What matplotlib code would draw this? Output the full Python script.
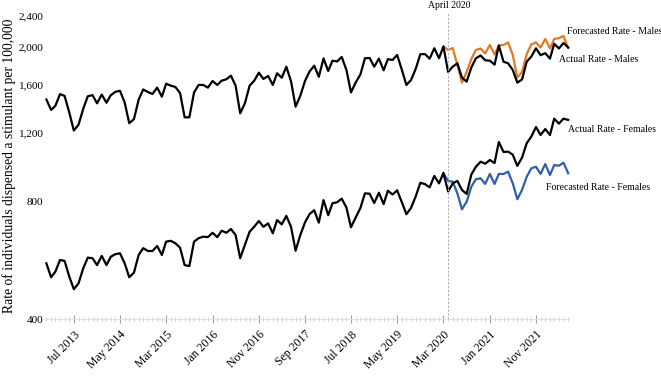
import numpy as np
import pandas as pd
import matplotlib
matplotlib.use('Agg')
from matplotlib import pyplot as plt
import matplotlib.dates as mdates
from matplotlib.ticker import FuncFormatter, NullFormatter, NullLocator

plt.rcParams['font.family'] = ['Liberation Serif', 'DejaVu Serif']

# monthly rates, Jan 2013 - Jun 2022
male_actual = [
    1465, 1377, 1410, 1512, 1496, 1356, 1219, 1262, 1387, 1493, 1503, 1432,
    1508, 1437, 1502, 1533, 1542, 1439, 1273, 1304, 1463, 1554, 1531, 1513,
    1571, 1489, 1608, 1589, 1577, 1522, 1318, 1318, 1527, 1596, 1596, 1571,
    1634, 1596, 1637, 1651, 1686, 1589, 1350, 1432, 1589, 1636, 1716, 1654,
    1683, 1596, 1710, 1666, 1778, 1631, 1404, 1497, 1634, 1729, 1788, 1675,
    1867, 1734, 1842, 1834, 1884, 1744, 1527, 1620, 1698, 1869, 1872, 1778,
    1865, 1741, 1859, 1850, 1906, 1747, 1596, 1644, 1758, 1915, 1915, 1864,
    1983, 1869, 2004, 1724, 1778, 1814, 1668, 1628, 1770, 1869, 1900, 1847,
    1842, 1800, 2016, 1831, 1814, 1744, 1618, 1649, 1832, 1887, 1983, 1903,
    1926, 1865, 2037, 1980, 2046, 1992,
]
female_actual = [
    556, 512, 529, 567, 564, 514, 477, 494, 540, 575, 573, 550,
    581, 550, 578, 587, 590, 556, 512, 526, 584, 608, 598, 598,
    616, 584, 632, 635, 626, 610, 550, 547, 632, 645, 651, 649,
    666, 649, 674, 666, 681, 657, 573, 620, 670, 690, 714, 690,
    704, 664, 718, 700, 736, 690, 599, 657, 708, 744, 761, 707,
    808, 739, 793, 798, 815, 773, 688, 729, 771, 841, 839, 794,
    844, 789, 854, 835, 856, 798, 743, 772, 827, 895, 888, 871,
    932, 892, 948, 850, 892, 905, 858, 838, 940, 984, 1014, 1002,
    1024, 1006, 1139, 1074, 1076, 1057, 989, 1039, 1131, 1176, 1245, 1187,
    1230, 1187, 1308, 1270, 1308, 1298,
]
# forecasts, Mar 2020 - Jun 2022
male_forecast = [
    2004, 1963, 1986, 1796, 1618, 1724, 1861, 1963, 1980, 1923,
    2022, 1911, 2016, 2022, 2052, 1906, 1668, 1724, 1917, 2028,
    2052, 1992, 2095, 1980, 2095, 2104, 2133, 1986,
]
female_forecast = [
    948, 905, 901, 841, 765, 800, 875, 914, 919, 889,
    943, 889, 943, 943, 956, 892, 812, 858, 928, 975,
    984, 943, 1000, 937, 994, 990, 1008, 947,
]

months = pd.date_range('2013-01-01', periods=len(male_actual), freq='MS')
fc_months = pd.date_range('2020-03-01', periods=len(male_forecast), freq='MS')
tick_months = pd.date_range('2013-07-01', periods=11, freq='10MS')

fig = plt.figure(figsize=(6.61, 3.79), dpi=100)
ax = fig.add_axes([45 / 661, 1 - 319 / 379, 525 / 661, 307 / 379])

ax.plot(fc_months, male_forecast, color='#E07B24', lw=1.6)
ax.plot(months, male_actual, color='black', lw=1.6)
ax.plot(fc_months, female_forecast, color='#2F5EAA', lw=1.6)
ax.plot(months, female_actual, color='black', lw=1.6)

ax.axvline(pd.Timestamp('2020-04-01'), color='#b0b0b0', lw=0.8, ls=(0, (2, 1.5)), clip_on=False)

ax.set_yscale('log')
ax.set_ylim(400, 2457)
ax.set_yticks([400, 800, 1200, 1600, 2000, 2400])
ax.yaxis.set_minor_locator(NullLocator())
ax.yaxis.set_minor_formatter(NullFormatter())
ax.yaxis.set_major_formatter(FuncFormatter(lambda v, p: f'{v:,.0f}'))
ax.tick_params(axis='y', length=0, labelsize=8, pad=1)

ax.set_xlim(pd.Timestamp('2012-12-23'), pd.Timestamp('2022-06-13'))
ax.set_xticks(tick_months)
ax.xaxis.set_major_formatter(mdates.DateFormatter('%b %Y'))
ax.xaxis.set_minor_locator(mdates.MonthLocator())
ax.tick_params(axis='x', which='major', length=6, direction='inout', color='#a0a0a0',
               labelsize=8.5, pad=4)
ax.tick_params(axis='x', which='minor', length=3, direction='inout', color='#c8c8c8')
for lbl in ax.get_xticklabels():
    lbl.set_rotation(45)
    lbl.set_ha('right')
    lbl.set_rotation_mode('anchor')

for side in ['top', 'right', 'left']:
    ax.spines[side].set_visible(False)
ax.spines['bottom'].set_color('#dddddd')
ax.spines['bottom'].set_linewidth(0.6)

ax.set_ylabel('Rate of individuals dispensed a stimulant per 100,000', fontsize=9.8, labelpad=2)

fig.text(449 / 661, 1 - 6 / 379, 'April 2020', ha='center', va='center', fontsize=7)
fig.text(567 / 661, 1 - 31 / 379, 'Forecasted Rate - Males', va='center', fontsize=7)
fig.text(559 / 661, 1 - 59 / 379, 'Actual Rate - Males', va='center', fontsize=7)
fig.text(568 / 661, 1 - 129 / 379, 'Actual Rate - Females', va='center', fontsize=7)
fig.text(546 / 661, 1 - 187 / 379, 'Forecasted Rate - Females', va='center', fontsize=7)

fig.savefig('out.png', dpi=100)
